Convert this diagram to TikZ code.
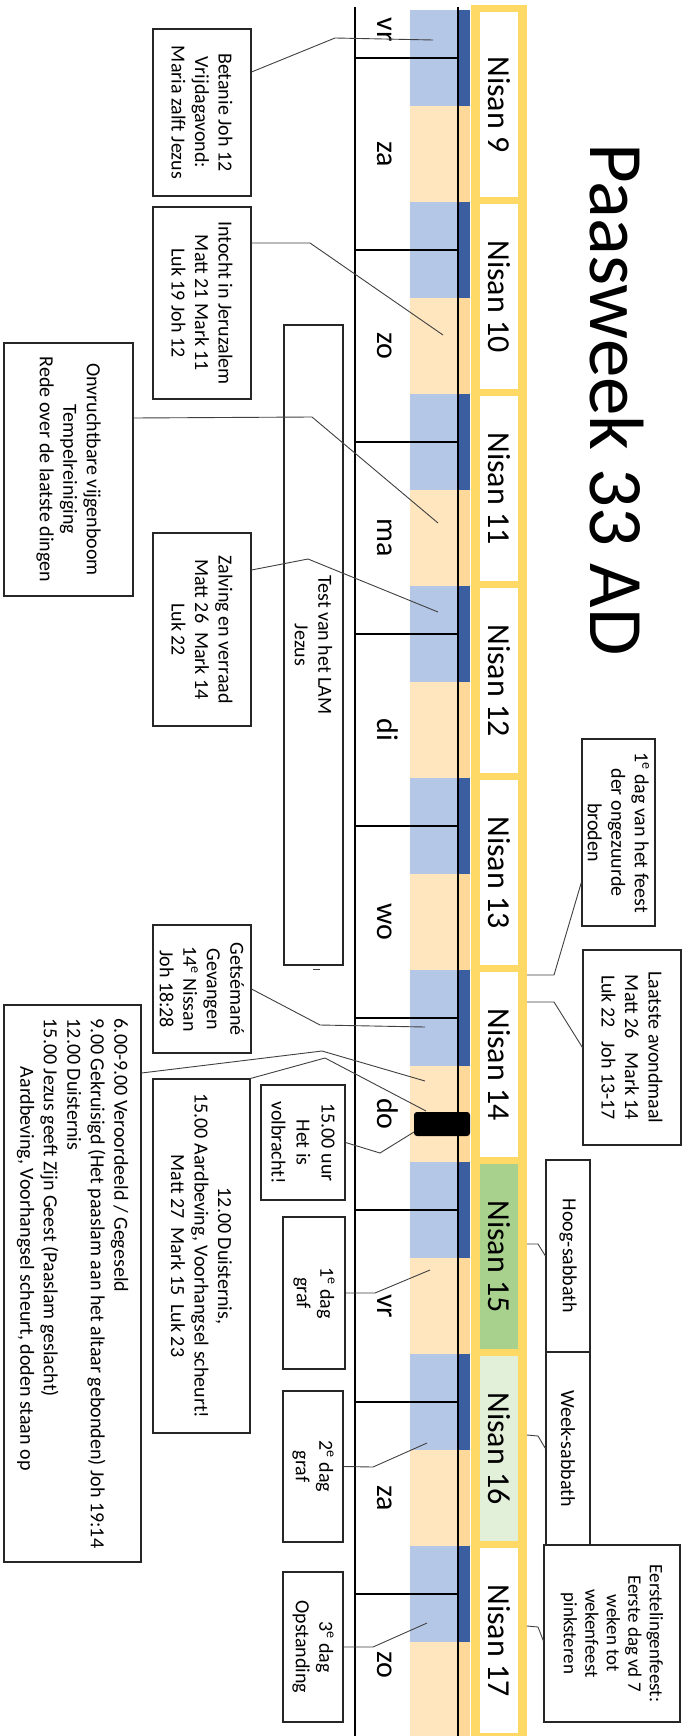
\documentclass[tikz,border=0pt]{standalone}
\usepackage{fontspec}
\setmainfont{Carlito}
\usetikzlibrary{calc}
\definecolor{ystrip}{HTML}{FFD966}
\definecolor{lblue}{HTML}{B4C7E7}
\definecolor{dblue}{HTML}{3A5EA0}
\definecolor{peach}{HTML}{FFE6BF}
\definecolor{dpeach}{HTML}{FFD99A}
\definecolor{gmid}{HTML}{A9D18E}
\definecolor{glight}{HTML}{E2F0D9}
\newcommand\bxfont{\fontsize{20}{23.5}\selectfont}
\newcommand\bxsmall{\fontsize{19}{21.5}\selectfont}
\begin{document}
\begin{tikzpicture}[x=1pt,y=-1pt,
  box/.style={draw=black!85,line width=1.1pt,fill=white,rotate=-90,align=center,inner sep=2pt,font=\bxfont},
  conn/.style={draw=black!75,line width=0.9pt},
  daybox/.style={draw=black,line width=2.8pt},
  nisan/.style={rotate=-90,anchor=base,font=\fontsize{32}{36}\selectfont},
  wday/.style={rotate=-90,anchor=base,font=\fontsize{30}{34}\selectfont},
]
\useasboundingbox (0,0) rectangle (685,1736);
\clip (0,0) rectangle (685,1736);
\fill[white] (0,0) rectangle (685,1736);

% Nisan strip
\fill[ystrip] (471,5) rectangle (527,1740);
\foreach \k/\c in {0/white,1/white,2/white,3/white,4/white,5/white,6/gmid,7/glight,8/white}
  \fill[\c] (480,12+192*\k) rectangle (518,197+192*\k);

% night / day blocks
\foreach \k in {0,...,8} {
  \fill[lblue] (410,10+192*\k) rectangle (458,106+192*\k);
  \fill[dblue] (458,10+192*\k) rectangle (470,106+192*\k);
  \fill[peach] (410,106+192*\k) rectangle (458,202+192*\k);
  \fill[dpeach] (458,106+192*\k) rectangle (470,202+192*\k);
}

% weekday boxes
\draw[daybox] (355,7) -- (355,58);
\draw[daybox] (458,7) -- (458,58);
\foreach \j in {0,...,8}
  \draw[daybox] (355,58+192*\j) rectangle (458,250+192*\j);

% black bar
\node[fill=black,rounded corners=3pt,minimum width=56pt,minimum height=24pt,inner sep=0pt] (bar) at (442,1124) {};

% title
\node[rotate=-90,anchor=base west,inner sep=0pt,font=\fontsize{77}{80}\selectfont] (title) at (590,143) {Paasweek 33 AD};

% Nisan labels
\foreach \nn in {9,...,17}
  \node[nisan] (nisan\nn) at (488,104.5+192*\nn-1728) {Nisan \nn};

% weekday labels
\node[wday] (d1) at (377,30) {vr};
\node[wday] (d2) at (377,154) {za};
\node[wday] (d3) at (377,346) {zo};
\node[wday] (d4) at (377,538) {ma};
\node[wday] (d5) at (377,730) {di};
\node[wday] (d6) at (377,922) {wo};
\node[wday] (d7) at (377,1114) {do};
\node[wday] (d8) at (377,1306) {vr};
\node[wday] (d9) at (377,1498) {za};
\node[wday] (d10) at (377,1665) {zo};

% left boxes
\node[box,minimum width=167,minimum height=98] (bet) at (202,112.5) {Betanie Joh 12\\Vrijdagavond:\\Maria zalft Jezus};
\node[box,minimum width=192,minimum height=98] (into) at (202,303) {Intocht in Jeruzalem\\Matt 21 Mark 11\\Luk 19 Joh 12};
\node[box,minimum width=253,minimum height=129] (onv) at (68.5,469.5) {Onvruchtbare vijgenboom\\Tempelreiniging\\Rede over de laatste dingen};
\node[box,minimum width=193,minimum height=98] (zalv) at (202,629.5) {Zalving en verraad\\Matt 26~~Mark 14\\Luk 22};
\node[box,minimum width=640,minimum height=59] (test) at (313.5,645) {Test van het LAM\\Jezus};
\node[box,minimum width=128,minimum height=98] (geth) at (202,989) {Getsémané\\Gevangen\\14\textsuperscript{e} Nissan\\Joh 18:28};
\node[box,align=left,minimum width=557,minimum height=137] (big) at (72.5,1283.5) {6.00-9.00 Veroordeeld / Gegeseld\\9.00 Gekruisigd (Het paaslam aan het altaar gebonden) Joh 19:14\\12.00 Duisternis\\15.00 Jezus geeft Zijn Geest (Paaslam geslacht)\\\hspace*{48pt}Aardbeving, Voorhangsel scheurt, doden staan op};
\node[box,minimum width=354,minimum height=97] (twelve) at (201.5,1256) {12.00 Duisternis,\\15.00 Aardbeving, Voorhangsel scheurt!\\Matt 27~~Mark 15~~Luk 23};
\node[box,minimum width=115,minimum height=84,font=\fontsize{20}{25}\selectfont] (fifteen) at (303,1142.5) {15.00 uur\\Het is\\volbracht!};
\node[box,minimum width=152,minimum height=62] (graf1) at (314,1293) {1\textsuperscript{e} dag\\graf};
\node[box,minimum width=151,minimum height=60] (graf2) at (313,1466.5) {2\textsuperscript{e} dag\\graf};
\node[box,minimum width=150,minimum height=60] (opst) at (313,1647) {3\textsuperscript{e} dag\\Opstanding};

% right boxes
\node[box,minimum width=187,minimum height=73] (feest) at (618.5,832.5) {1\textsuperscript{e} dag van het feest\\der ongezuurde\\broden};
\node[box,minimum width=195,minimum height=98] (avond) at (632,1047.5) {Laatste avondmaal\\Matt 26~~~Mark 14\\Luk 22~~~Joh 13-17};
\node[box,minimum width=192,minimum height=44] (hoog) at (568,1256) {Hoog-sabbath};
\node[box,minimum width=193,minimum height=44] (week) at (568,1448.5) {Week-sabbath};
\node[box,minimum width=177,minimum height=136,font=\bxsmall] (eerst) at (612,1633.5) {Eerstelingenfeest:\\Eerste dag vd 7\\weken tot\\wekenfeest\\pinksteren};

% connector points
\coordinate (betB) at (335,38);   \coordinate (betE) at (433,40);
\coordinate (intoB) at (310,243); \coordinate (intoE) at (443,335);
\coordinate (onvB) at (312,417);  \coordinate (onvE) at (438,523);
\coordinate (zalvB) at (308,559); \coordinate (zalvE) at (438,612);
\coordinate (gethB) at (320,1025); \coordinate (gethE) at (425,1027);
\coordinate (bigB) at (322,1051); \coordinate (bigE) at (425,1081);
\coordinate (twB) at (325,1058);  \coordinate (twE) at (426,1111);
\coordinate (fiB) at (380,1153);  \coordinate (fiE) at (414,1132);
\coordinate (g1B) at (375,1293);  \coordinate (g1E) at (430,1270);
\coordinate (g2B) at (373,1467);  \coordinate (g2E) at (427,1443);
\coordinate (opB) at (373,1647);  \coordinate (opE) at (427,1623);
\coordinate (feB) at (554,975);   \coordinate (feE) at (527,975);
\coordinate (avB) at (554,1002);  \coordinate (avE) at (527,1002);
\coordinate (hoB) at (538,1244);  \coordinate (hoE) at (527,1244);
\coordinate (weB) at (538,1436);  \coordinate (weE) at (527,1435);
\coordinate (eeB) at (538,1627);  \coordinate (eeE) at (527,1626);

% connectors
\draw[conn] ($(bet.north)+(0,-40.5)$) -- (betB) -- (betE);
\draw[conn] ($(into.north)+(0,-60)$) -- (intoB) -- (intoE);
\draw[conn] ($(onv.north)+(0,-51.5)$) -- (onvB) -- (onvE);
\draw[conn] ($(zalv.north)+(0,-59.5)$) -- (zalvB) -- (zalvE);
\draw[conn] (geth.north) -- (gethB) -- (gethE);
\draw[conn] ($(big.north)+(0,-210.5)$) -- (bigB) -- (bigE);
\draw[conn] (twelve.north west) -- (twB) -- (twE);
\draw[conn] (fifteen.north) -- (fiB) -- (fiE);
\draw[conn] (graf1.north) -- (g1B) -- (g1E);
\draw[conn] (graf2.north) -- (g2B) -- (g2E);
\draw[conn] (opst.north) -- (opB) -- (opE);
\draw[conn] ($(feest.south)+(0,49.5)$) -- (feB) -- (feE);
\draw[conn] (avond.south) -- (avB) -- (avE);
\draw[conn] (hoog.south) -- (hoB) -- (hoE);
\draw[conn] (week.south) -- (weB) -- (weE);
\draw[conn] ($(eerst.south)+(0,7.5)$) -- (eeB) -- (eeE);

% small mark below the test box
\coordinate (tickA) at (313,969); \coordinate (tickB) at (320,969);
\draw[conn] (tickA) -- (tickB);
\end{tikzpicture}
\end{document}
